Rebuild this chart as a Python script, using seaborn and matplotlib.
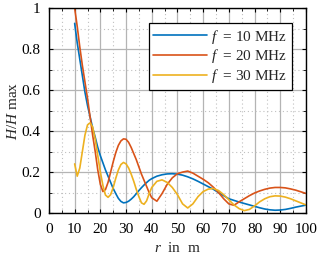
import numpy as np
import pandas as pd
import matplotlib
matplotlib.use("Agg")
import matplotlib.pyplot as plt
import seaborn as sns
from matplotlib.ticker import MultipleLocator

r = [10, 11, 12, 13, 14, 15, 16, 17, 18, 19, 20, 21, 22, 23, 24, 25, 26, 27, 28, 29,
     30, 31, 32, 33, 34, 35, 36, 37, 38, 39, 40, 42, 44, 46, 48, 50, 52, 54, 56, 58,
     60, 62, 64, 66, 68, 70, 72, 74, 76, 78, 80, 82, 84, 86, 88, 90, 92, 94, 96, 98, 100]

h_10 = [0.925, 0.83, 0.75, 0.67, 0.59, 0.525, 0.47, 0.415, 0.37, 0.32, 0.28, 0.245, 0.21, 0.18, 0.15, 0.12, 0.095, 0.072, 0.057, 0.05,
        0.052, 0.058, 0.068, 0.08, 0.095, 0.11, 0.124, 0.137, 0.149, 0.16, 0.168, 0.18, 0.187, 0.191, 0.192, 0.19, 0.185, 0.177, 0.167, 0.155,
        0.142, 0.129, 0.116, 0.1, 0.085, 0.07, 0.062, 0.054, 0.047, 0.04, 0.033, 0.026, 0.02, 0.016, 0.014, 0.015, 0.018, 0.023, 0.029, 0.034, 0.039]

h_20 = [1.0, 0.91, 0.81, 0.72, 0.64, 0.56, 0.47, 0.38, 0.30, 0.21, 0.14, 0.105, 0.115, 0.15, 0.20, 0.25, 0.295, 0.33, 0.352, 0.362,
        0.36, 0.345, 0.32, 0.29, 0.26, 0.225, 0.19, 0.16, 0.13, 0.1, 0.075, 0.058, 0.095, 0.14, 0.172, 0.192, 0.2, 0.205, 0.195, 0.18,
        0.165, 0.148, 0.126, 0.1, 0.07, 0.045, 0.038, 0.055, 0.07, 0.085, 0.098, 0.108, 0.116, 0.122, 0.125, 0.125, 0.123, 0.118, 0.112, 0.104, 0.096]

h_30 = [0.24, 0.18, 0.22, 0.30, 0.38, 0.43, 0.44, 0.42, 0.36, 0.28, 0.20, 0.135, 0.088, 0.077, 0.09, 0.125, 0.17, 0.21, 0.237, 0.247,
        0.24, 0.22, 0.19, 0.155, 0.115, 0.08, 0.05, 0.043, 0.06, 0.095, 0.125, 0.155, 0.162, 0.15, 0.125, 0.09, 0.045, 0.025, 0.045, 0.08,
        0.105, 0.117, 0.12, 0.11, 0.09, 0.065, 0.04, 0.022, 0.012, 0.018, 0.035, 0.055, 0.07, 0.08, 0.084, 0.083, 0.078, 0.07, 0.06, 0.05, 0.04]

labels = ["$f$  = 10 MHz", "$f$  = 20 MHz", "$f$  = 30 MHz"]
colors = ["#0072BD", "#D95319", "#EDB120"]

df = pd.concat([
    pd.DataFrame({"r": r, "H": h, "series": lab})
    for h, lab in zip([h_10, h_20, h_30], labels)
])

sns.set_style("ticks")
plt.rcParams["font.family"] = ["Liberation Serif", "DejaVu Serif"]
plt.rcParams["mathtext.fontset"] = "custom"
plt.rcParams["mathtext.rm"] = "Liberation Serif"
plt.rcParams["mathtext.it"] = "Liberation Serif:italic"

fig = plt.figure(figsize=(3.2, 2.58), dpi=100)
ax = fig.add_axes([0.153, 0.174, 0.803, 0.795])

sns.lineplot(data=df, x="r", y="H", hue="series", palette=colors, ax=ax,
             linewidth=1.2, legend=False)

ax.set_xlim(0, 100)
ax.set_ylim(0, 1)
ax.xaxis.set_major_locator(MultipleLocator(10))
ax.xaxis.set_minor_locator(MultipleLocator(5))
ax.yaxis.set_major_locator(MultipleLocator(0.2))
ax.yaxis.set_minor_locator(MultipleLocator(0.1))
ax.set_yticks([0, 0.2, 0.4, 0.6, 0.8, 1.0])
ax.set_yticklabels(["0", "0.2", "0.4", "0.6", "0.8", "1"])

ax.grid(which="major", color="#b4b4b4", linestyle="-", linewidth=0.9)
ax.grid(which="minor", color="#c0c0c0", linestyle=(0, (1, 2.5)), linewidth=0.8)
ax.set_axisbelow(True)

ax.tick_params(which="both", direction="in", top=True, right=True, labelsize=11, colors="black")
ax.tick_params(axis="x", pad=7)
ax.tick_params(axis="y", pad=6)
ax.tick_params(which="major", length=3, width=0.8)
ax.tick_params(which="minor", length=2, width=0.6)
for s in ax.spines.values():
    s.set_linewidth(1.0)
    s.set_color("black")

ax.set_xlabel("$r$  in  m", fontsize=11, labelpad=4)
ax.set_ylabel("$H/H$ max", fontsize=11, labelpad=1)

handles = [plt.Line2D([], [], color=c, linewidth=1.2) for c in colors]
leg = ax.legend(handles, labels, loc="upper right", bbox_to_anchor=(0.946, 0.927),
                fontsize=11, frameon=True, fancybox=False, framealpha=1,
                edgecolor="black", handlelength=3.5, handletextpad=0.3,
                borderpad=0.3, labelspacing=0.12, borderaxespad=0)
leg.get_frame().set_linewidth(0.9)

fig.savefig("out.png", dpi=100)
